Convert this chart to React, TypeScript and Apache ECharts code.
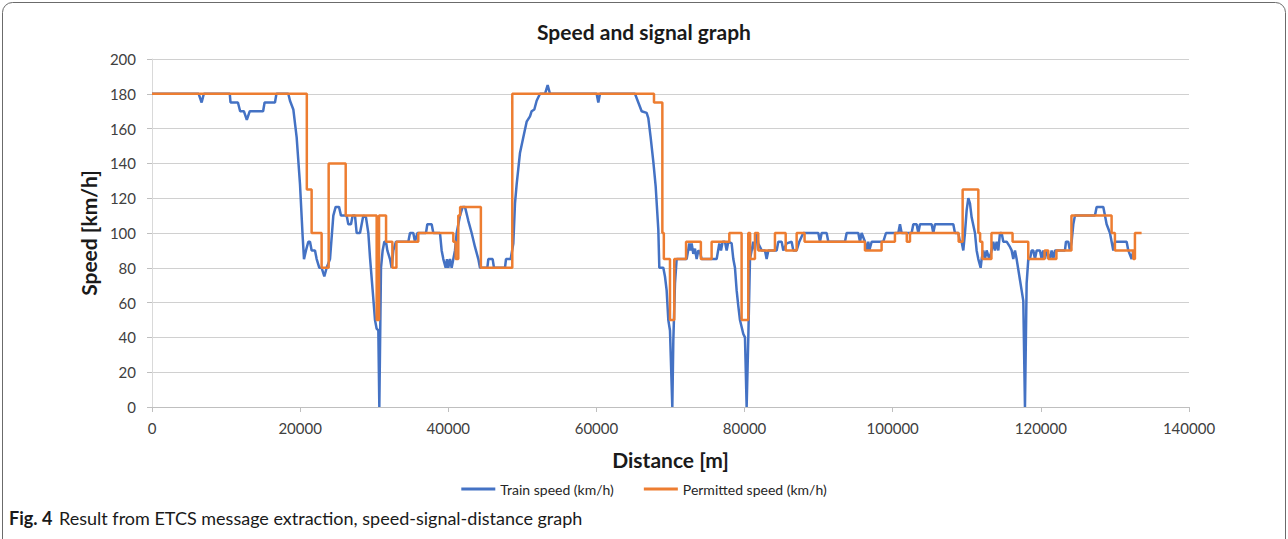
import React, { useEffect, useRef } from "react";
import * as echarts from "echarts";

const titleText = "Speed and signal graph";
const xAxisName = "Distance [m]";
const yAxisName = "Speed [km/h]";
const trainName = "Train speed (km/h)";
const permittedName = "Permitted speed (km/h)";
const captionBold = "Fig. 4";
const captionText = "Result from ETCS message extraction, speed-signal-distance graph";

// Train speed: distance [m] and speed [km/h]
const trainDistance = [
  0, 6300, 6700, 7000, 10500, 10600, 11600, 11900, 12400, 12800, 13200, 15000, 15200, 16600, 16800, 18400,
  18630, 19080, 19530, 19980, 20340, 20520, 20790, 21105, 21330, 21555, 22005, 22230, 22590, 22905, 23265,
  23580, 24030, 24480, 24795, 25245, 25515, 26280, 26505, 26865, 27090, 27405, 27630, 28080, 28305, 28530,
  28890, 29205, 29430, 29790, 30105, 30330, 30555, 30690, 30915, 31140, 31365, 31590, 31770, 32130, 32355,
  32580, 32940, 34605, 34830, 35280, 35505, 35820, 36990, 37170, 37755, 37980, 38880, 39105, 39330, 39645,
  39825, 40005, 40230, 40455, 40680, 40905, 41130, 41580, 41940, 42255, 42705, 43155, 43605, 44055, 44280,
  45270, 45405, 45990, 46170, 47655, 47790, 48420, 48780, 49005, 49230, 49680, 50130, 50580, 51030, 51255,
  51615, 51930, 52380, 53055, 53415, 53730, 60030, 60255, 60480, 65205, 65655, 66105, 66780, 67005, 67320,
  67680, 67995, 68355, 68490, 69030, 69255, 69480, 69705, 69930, 70245, 70380, 70605, 70830, 72180, 72540,
  72720, 72855, 73080, 73305, 73530, 73755, 73980, 74205, 76230, 76590, 76815, 77040, 77355, 77580, 77805,
  78255, 78480, 78705, 78930, 79155, 79380, 79830, 80055, 80280, 80505, 80730, 80955, 81180, 81405, 81630,
  81855, 82305, 82755, 82980, 83205, 84330, 84555, 85005, 85230, 85680, 86355, 86580, 87030, 87390, 87705,
  87930, 89955, 90180, 90405, 91080, 91305, 93555, 93780, 95355, 95580, 95805, 96255, 96480, 96705, 96840,
  97155, 98730, 99090, 100755, 100980, 101205, 102555, 102780, 103230, 103455, 103680, 105255, 105480,
  105705, 108180, 108405, 108855, 109080, 109305, 109530, 109755, 109980, 110205, 110430, 110655, 111105,
  111330, 111555, 111870, 112005, 112230, 112455, 112680, 113040, 113355, 113580, 113805, 114030, 114255,
  114480, 114705, 114930, 115380, 115830, 116055, 116280, 116505, 116730, 116955, 117180, 117405, 117630,
  117855, 118080, 118305, 118530, 118755, 118980, 119205, 119430, 119880, 120105, 120330, 120555, 120780,
  121230, 121455, 121680, 121905, 123255, 123390, 123705, 123930, 124155, 124380, 124605, 127305, 127530,
  128430, 128655, 128880, 129330, 129555, 129780, 130005, 131580, 131805, 132255, 132480,
];
const trainSpeed = [
  180, 180, 175, 180, 180, 175, 175, 170, 170, 165, 170, 170, 175, 175, 180, 180,
  176, 171, 155, 128, 98, 85, 90, 95, 95, 90, 90, 85, 80, 80, 75,
  80, 85, 110, 115, 115, 110, 110, 105, 105, 110, 110, 100, 100, 105, 110,
  109, 100, 86, 67, 50, 45, 44, 0, 80, 90, 95, 95, 90, 85, 80,
  90, 95, 95, 100, 100, 95, 100, 100, 105, 105, 100, 100, 90, 85, 80,
  85, 80, 85, 80, 85, 90, 100, 110, 115, 115, 107, 100, 92, 85, 80,
  80, 85, 85, 80, 80, 85, 85, 94, 117, 128, 146, 155, 164, 167, 170,
  171, 176, 180, 180, 185, 180, 180, 175, 180, 180, 175, 170, 169, 166, 155,
  141, 127, 102, 80, 80, 75, 67, 50, 44, 0, 38, 71, 85, 85, 94,
  90, 94, 88, 91, 85, 90, 89, 85, 85, 94, 90, 95, 95, 90, 95,
  94, 85, 80, 67, 58, 50, 42, 40, 0, 40, 85, 90, 95, 90, 100,
  94, 90, 90, 85, 90, 90, 95, 95, 90, 94, 95, 90, 90, 95, 98,
  100, 100, 95, 100, 100, 95, 95, 100, 100, 95, 100, 95, 90, 95, 90,
  95, 95, 100, 100, 105, 100, 100, 105, 105, 100, 105, 105, 100,
  105, 105, 100, 100, 95, 95, 90, 100, 113, 120, 117, 109, 100,
  90, 85, 80, 85, 90, 85, 90, 85, 90, 95, 90, 95, 90,
  100, 100, 95, 95, 92, 90, 85, 90, 85, 79, 73, 67, 61,
  0, 71, 85, 85, 90, 90, 85, 90, 90, 85, 90, 85, 90,
  85, 90, 85, 90, 90, 95, 95, 90, 95, 105, 110, 110, 115,
  115, 110, 105, 100, 95, 90, 95, 95, 90, 85, 90,
];

// Permitted speed: step breakpoints (speed holds from each distance until the next)
const permittedDistance = [
  0, 20900, 21550, 22900, 23850, 26150, 30330, 30650, 31600, 32450, 33000, 35950, 40680, 41000, 41350,
  41600, 44400, 48640, 67770, 68900, 69100, 69930, 70510, 72100, 74100, 75550, 77940, 79600, 80500,
  80750, 81400, 81850, 84100, 85550, 87030, 88100, 96250, 98500, 100300, 101900, 102330, 108900, 109440,
  111560, 111800, 112100, 113330, 116180, 118300, 120500, 121000, 122100, 124130, 129550, 130000, 132480,
  132700, 133600,
];
const permittedSpeed = [
  180, 125, 100, 80, 140, 110, 50, 110, 95, 80, 95, 100, 95, 85, 110,
  115, 80, 180, 175, 100, 85, 50, 85, 95, 85, 95, 100, 50, 100,
  85, 100, 90, 100, 90, 100, 95, 90, 95, 100, 95, 100, 95, 125,
  100, 95, 85, 100, 95, 85, 90, 85, 90, 110, 100, 90, 85,
  100, 100,
];

const xTicks = { min: 0, max: 140000, interval: 20000 };
const yTicks = { min: 0, max: 200, interval: 20 };

const FONT = "Lato";

export default function App() {
  const ref = useRef<HTMLDivElement>(null);
  useEffect(() => {
    if (!ref.current) return;
    const chart = echarts.init(ref.current, undefined, { renderer: "svg" });
    const train = trainDistance.map((d, i) => [d, trainSpeed[i]]);
    const permitted = permittedDistance.map((d, i) => [d, permittedSpeed[i]]);
    chart.setOption({
      animation: false,
      backgroundColor: "#ffffff",
      title: {
        text: titleText,
        left: "center",
        top: 16,
        textStyle: { fontFamily: FONT, fontSize: 21, fontWeight: "bold", color: "#1a1a1a" },
      },
      grid: { left: 152, right: 99, top: 59, bottom: 132, containLabel: false },
      legend: {
        bottom: 38,
        left: "center",
        itemWidth: 34,
        itemHeight: 3,
        itemGap: 30,
        icon: "rect",
        textStyle: { fontFamily: FONT, fontSize: 14, color: "#262626" },
        data: [trainName, permittedName],
      },
      xAxis: {
        type: "value",
        min: xTicks.min,
        max: xTicks.max,
        interval: xTicks.interval,
        name: xAxisName,
        nameLocation: "middle",
        nameGap: 42,
        nameTextStyle: { fontFamily: FONT, fontSize: 21, fontWeight: "bold", color: "#1a1a1a" },
        axisLine: { show: true, lineStyle: { color: "#bfbfbf", width: 1 } },
        axisTick: { show: true, length: 5, lineStyle: { color: "#bfbfbf" } },
        axisLabel: {
          fontFamily: FONT,
          fontSize: 15,
          color: "#404040",
          margin: 13,
          formatter: (v: number) => String(v),
        },
        splitLine: { show: false },
      },
      yAxis: {
        type: "value",
        min: yTicks.min,
        max: yTicks.max,
        interval: yTicks.interval,
        name: yAxisName,
        nameLocation: "middle",
        nameGap: 49,
        nameTextStyle: { fontFamily: FONT, fontSize: 21, fontWeight: "bold", color: "#1a1a1a" },
        axisLine: { show: true, lineStyle: { color: "#d9d9d9", width: 1 } },
        axisTick: { show: true, length: 5, lineStyle: { color: "#bfbfbf" } },
        axisLabel: { fontFamily: FONT, fontSize: 15, color: "#404040", margin: 16 },
        splitLine: { show: true, lineStyle: { color: "#d0d0d0", width: 1 } },
      },
      series: [
        {
          name: trainName,
          type: "line",
          data: train,
          showSymbol: false,
          lineStyle: { color: "#4472C4", width: 2.5 },
          itemStyle: { color: "#4472C4" },
          z: 2,
        },
        {
          name: permittedName,
          type: "line",
          data: permitted,
          step: "end",
          showSymbol: false,
          lineStyle: { color: "#ED7D31", width: 2.5 },
          itemStyle: { color: "#ED7D31" },
          z: 3,
        },
      ],
      graphic: [
        {
          type: "rect",
          shape: { x: 2.5, y: 2.5, width: 1283, height: 580, r: 10 },
          style: { fill: "none", stroke: "#6b6b6b", lineWidth: 1 },
          silent: true,
        },
        {
          type: "text",
          left: 9,
          top: 509,
          style: {
            text: "{a|" + captionBold + "}  {b|" + captionText + "}",
            rich: {
              a: { fontFamily: FONT, fontSize: 18, fontWeight: "bold", fill: "#1a1a1a" },
              b: { fontFamily: FONT, fontSize: 18, fill: "#1a1a1a" },
            },
          },
        },
      ],
    });
    return () => chart.dispose();
  }, []);
  return (
    <div
      ref={ref}
      style={{ position: "fixed", left: 0, top: 0, width: 1288, height: 539, background: "#fff" }}
    />
  );
}
